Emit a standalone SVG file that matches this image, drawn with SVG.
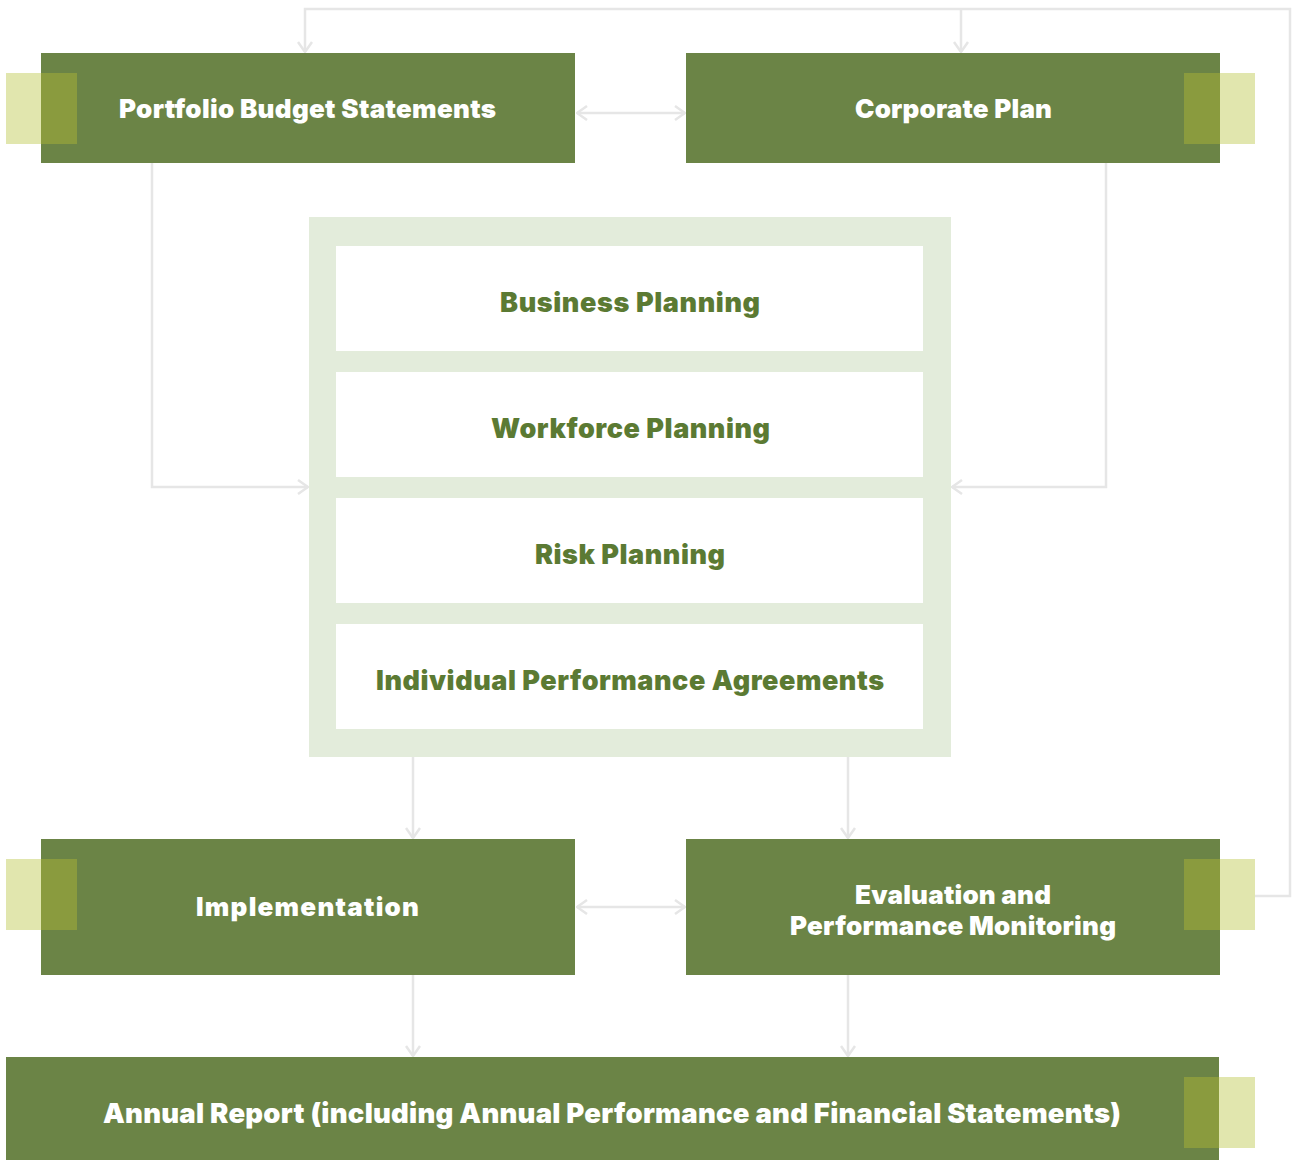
<svg xmlns="http://www.w3.org/2000/svg" width="1292" height="1160" viewBox="0 0 1292 1160">
<style>
.box{fill:#6b8446}
.acc{fill:#e1e6ae}
.ov{fill:#8a9b3e}
.t{font-family:Inter,"Liberation Sans",sans-serif;font-weight:900;font-size:26px;fill:#ffffff;text-anchor:middle}
.c{font-family:Inter,"Liberation Sans",sans-serif;font-weight:900;font-size:27px;fill:#5b7a33;text-anchor:middle}
.ln{fill:none;stroke:#e6e6e6;stroke-width:2.5}
</style>
<defs>
<marker id="ah" viewBox="0 0 12 16" refX="11" refY="8" markerWidth="12" markerHeight="16" markerUnits="userSpaceOnUse" orient="auto-start-reverse">
<path d="M1,1 L11,8 L1,15" fill="none" stroke="#e6e6e6" stroke-width="2.5"/>
</marker>
</defs>
<rect width="1292" height="1160" fill="#ffffff"/>
<g id="connectors">
<path class="ln" d="M1220,896 H1290 V9 H305 V52" marker-end="url(#ah)"/>
<path class="ln" d="M961,9 V52" marker-end="url(#ah)"/>
<path class="ln" d="M577,113 H685" marker-start="url(#ah)" marker-end="url(#ah)"/>
<path class="ln" d="M152,163 V487 H308" marker-end="url(#ah)"/>
<path class="ln" d="M1106,163 V487 H952" marker-end="url(#ah)"/>
<path class="ln" d="M413,757 V838" marker-end="url(#ah)"/>
<path class="ln" d="M848,757 V838" marker-end="url(#ah)"/>
<path class="ln" d="M577,907 H685" marker-start="url(#ah)" marker-end="url(#ah)"/>
<path class="ln" d="M413,975 V1056" marker-end="url(#ah)"/>
<path class="ln" d="M848,975 V1056" marker-end="url(#ah)"/>
</g>
<g id="pbs">
<rect class="box" x="41" y="53" width="534" height="110"/>
<rect class="acc" x="6" y="73" width="35" height="71"/>
<rect class="ov" x="41" y="73" width="36" height="71"/>
<text class="t" x="307.5" y="118" textLength="377" lengthAdjust="spacing">Portfolio Budget Statements</text>
</g>
<g id="cp">
<rect class="box" x="686" y="53" width="534" height="110"/>
<rect class="ov" x="1184" y="73" width="36" height="71"/>
<rect class="acc" x="1220" y="73" width="35" height="71"/>
<text class="t" x="953.5" y="118" textLength="197" lengthAdjust="spacing">Corporate Plan</text>
</g>
<g id="planning">
<rect x="309" y="217" width="642" height="540" fill="#e3ecdb"/>
<g id="bp"><rect x="336" y="246" width="587" height="105" fill="#ffffff"/><text class="c" x="630" y="312" textLength="260" lengthAdjust="spacing">Business Planning</text></g>
<g id="wp"><rect x="336" y="372" width="587" height="105" fill="#ffffff"/><text class="c" x="630.5" y="438" textLength="279" lengthAdjust="spacing">Workforce Planning</text></g>
<g id="rp"><rect x="336" y="498" width="587" height="105" fill="#ffffff"/><text class="c" x="630" y="564" textLength="190" lengthAdjust="spacing">Risk Planning</text></g>
<g id="ipa"><rect x="336" y="624" width="587" height="105" fill="#ffffff"/><text class="c" x="630" y="690" textLength="508" lengthAdjust="spacing">Individual Performance Agreements</text></g>
</g>
<g id="impl">
<rect class="box" x="41" y="839" width="534" height="136"/>
<rect class="acc" x="6" y="859" width="35" height="71"/>
<rect class="ov" x="41" y="859" width="36" height="71"/>
<text class="t" x="307.5" y="916" textLength="223" lengthAdjust="spacing">Implementation</text>
</g>
<g id="eval">
<rect class="box" x="686" y="839" width="534" height="136"/>
<rect class="ov" x="1184" y="859" width="36" height="71"/>
<rect class="acc" x="1220" y="859" width="35" height="71"/>
<text class="t" x="953" y="904" textLength="196" lengthAdjust="spacing">Evaluation and</text>
<text class="t" x="953" y="935" textLength="326" lengthAdjust="spacing">Performance Monitoring</text>
</g>
<g id="ar">
<rect class="box" x="6" y="1057" width="1213" height="103"/>
<rect class="ov" x="1184" y="1077" width="35" height="71"/>
<rect class="acc" x="1219" y="1077" width="36" height="71"/>
<text class="t" x="612" y="1123" style="font-size:27.5px" textLength="1018" lengthAdjust="spacing">Annual Report (including Annual Performance and Financial Statements)</text>
</g>
</svg>
